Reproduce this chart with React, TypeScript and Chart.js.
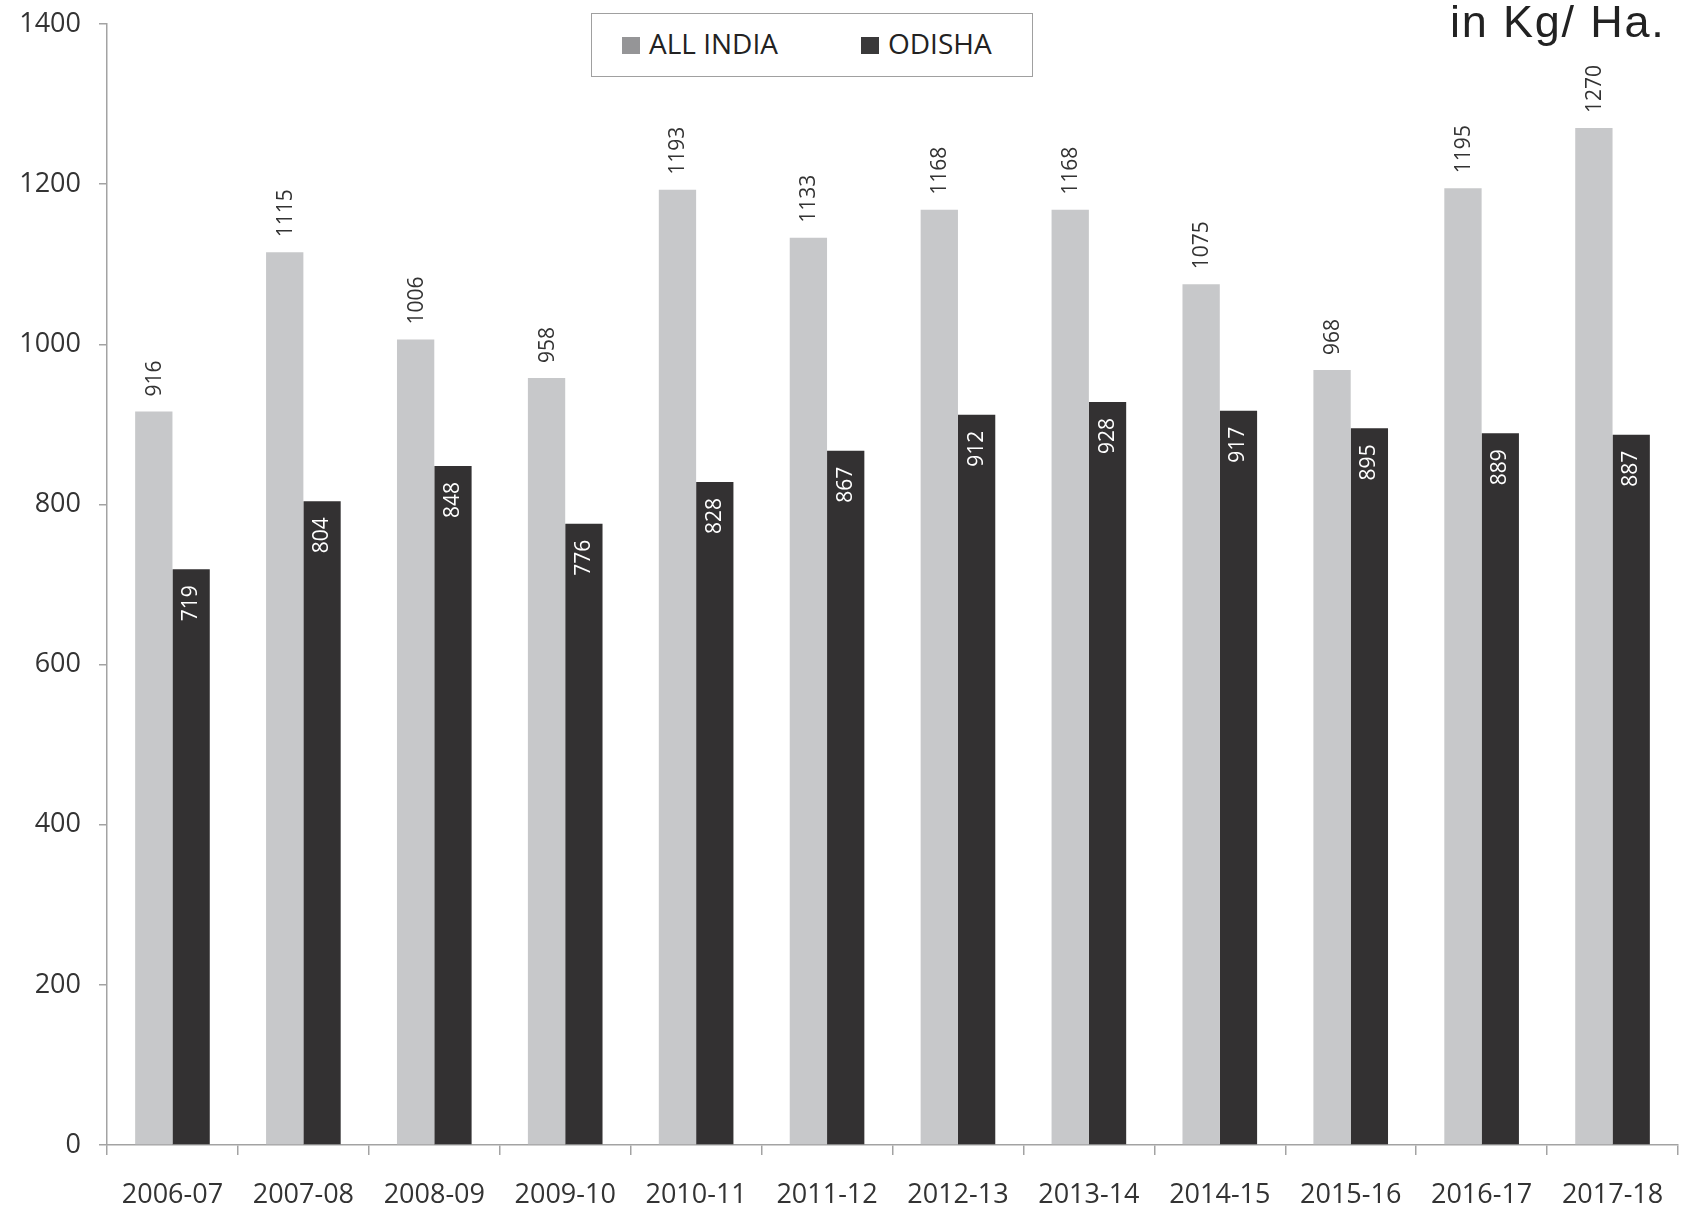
import React, { useEffect, useRef } from "react";
import { Chart, registerables } from "chart.js";

Chart.register(...registerables);

const categories = [
  "2006-07", "2007-08", "2008-09", "2009-10", "2010-11", "2011-12",
  "2012-13", "2013-14", "2014-15", "2015-16", "2016-17", "2017-18",
];
const allIndia = [916, 1115, 1006, 958, 1193, 1133, 1168, 1168, 1075, 968, 1195, 1270];
const odisha = [719, 804, 848, 776, 828, 867, 912, 928, 917, 895, 889, 887];
const seriesNames = ["ALL INDIA", "ODISHA"];
const unitLabel = "in Kg/ Ha.";
const yMin = 0;
const yMax = 1400;
const yStep = 200;

const GRAY = "#c7c8ca";
const DARK = "#333132";
const AXIS = "#a3a3a3";

const valueLabels = {
  id: "valueLabels",
  afterDatasetsDraw(chart: any) {
    const ctx = chart.ctx;
    chart.data.datasets.forEach((ds: any, di: number) => {
      const meta = chart.getDatasetMeta(di);
      meta.data.forEach((bar: any, i: number) => {
        const v = ds.data[i];
        ctx.save();
        ctx.translate(bar.x + (di === 0 ? 1 : 0), bar.y + (di === 0 ? -15 : 16));
        ctx.rotate(-Math.PI / 2);
        ctx.font = '21px "Open Sans"';
        ctx.fillStyle = di === 0 ? "#333333" : "#ffffff";
        ctx.textAlign = di === 0 ? "left" : "right";
        ctx.textBaseline = "middle";
        ctx.fillText(String(v), 0, 0);
        ctx.restore();
      });
    });
  },
};

export default function App() {
  const ref = useRef<HTMLCanvasElement>(null);
  useEffect(() => {
    if (!ref.current) return;
    const chart = new Chart(ref.current, {
      type: "bar",
      data: {
        labels: categories,
        datasets: [
          { label: seriesNames[0], data: allIndia, backgroundColor: GRAY, categoryPercentage: 0.57, barPercentage: 1 },
          { label: seriesNames[1], data: odisha, backgroundColor: DARK, categoryPercentage: 0.57, barPercentage: 1 },
        ],
      },
      options: {
        responsive: false,
        animation: false,
        layout: { padding: { top: 24, right: 7, left: 0, bottom: 0 } },
        plugins: { legend: { display: false }, tooltip: { enabled: false } },
        scales: {
          x: {
            afterFit: (s: any) => { s.height = 70; s.paddingLeft = 0; s.paddingRight = 0; },
            border: { color: AXIS, width: 1.5 },
            grid: { display: true, drawOnChartArea: false, drawTicks: true, tickLength: 10, color: AXIS, lineWidth: 1.5 },
            ticks: { color: "#333333", font: { family: '"Open Sans"', size: 27 }, maxRotation: 0, padding: 24 },
          },
          y: {
            min: yMin,
            max: yMax,
            afterFit: (s: any) => { s.width = 107; s.paddingTop = 0; s.paddingBottom = 0; },
            border: { color: AXIS, width: 1.5 },
            grid: { display: true, drawOnChartArea: false, drawTicks: true, tickLength: 8, color: AXIS, lineWidth: 1.5 },
            ticks: { stepSize: yStep, color: "#333333", font: { family: '"Open Sans"', size: 27 }, padding: 18, callback: (v: any) => String(v) },
          },
        },
      },
      plugins: [valueLabels],
    });
    return () => chart.destroy();
  }, []);

  return (
    <div style={{ position: "absolute", left: 0, top: 0, width: 1685, height: 1215, background: "#fff" }}>
      <canvas ref={ref} width={1685} height={1215} style={{ display: "block" }} />
      <div style={{ position: "absolute", left: 591, top: 13, width: 440, height: 62, border: "1.5px solid #a0a0a0", background: "#fff" }} />
      <div style={{ position: "absolute", left: 622, top: 37, width: 18, height: 17, background: "#959597" }} />
      <div style={{ position: "absolute", left: 649, top: 29, fontFamily: '"Open Sans"', fontSize: 28, lineHeight: "28px", color: "#222", whiteSpace: "nowrap" }}>{seriesNames[0]}</div>
      <div style={{ position: "absolute", left: 861, top: 37, width: 18, height: 17, background: "#3a393a" }} />
      <div style={{ position: "absolute", left: 888, top: 29, fontFamily: '"Open Sans"', fontSize: 28, lineHeight: "28px", color: "#222", whiteSpace: "nowrap" }}>{seriesNames[1]}</div>
      <div style={{ position: "absolute", left: 1450, top: -1, fontFamily: '"Liberation Sans", Arial', fontSize: 45, lineHeight: "45px", color: "#222", whiteSpace: "nowrap", letterSpacing: 1.8 }}>{unitLabel}</div>
    </div>
  );
}
